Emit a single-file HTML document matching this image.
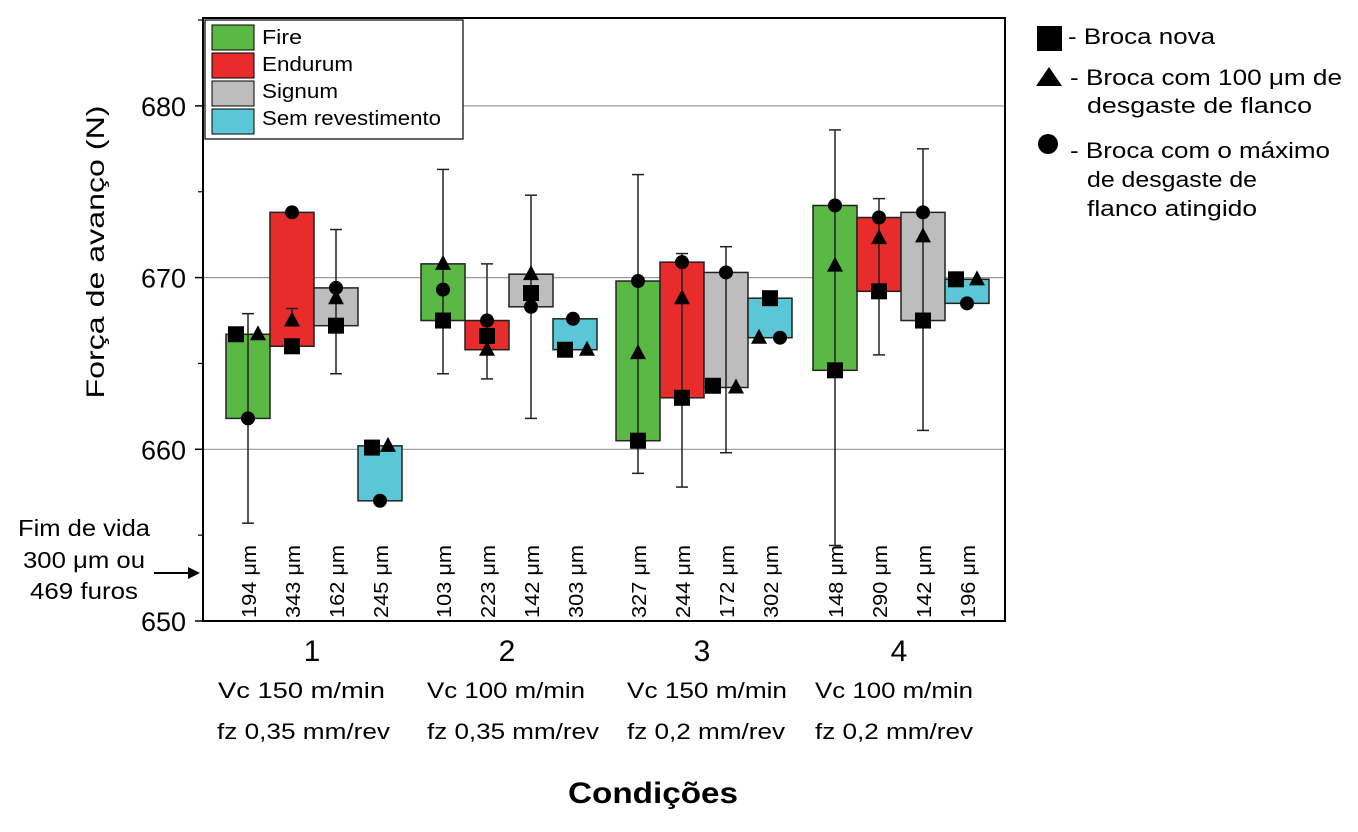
<!DOCTYPE html>
<html><head><meta charset="utf-8"><style>
body{margin:0;background:#fff;}
svg text{font-family:"Liberation Sans",Arial,sans-serif;fill:#000;}
</style></head><body>
<svg id="chart" width="1358" height="827" viewBox="0 0 1358 827" xmlns="http://www.w3.org/2000/svg">
<g id="grid"></g>
<g id="axes"></g>
<g id="marks"></g>
<rect x="203" y="18" width="802" height="603" fill="none" stroke="#000" stroke-width="2"/>
<g>
<rect x="205" y="20" width="258" height="119" fill="#fff" stroke="#000" stroke-width="1.2"/>
<rect x="212" y="25" width="42" height="25" fill="#5ab845" stroke="#000"/>
<text x="262" y="44" font-size="20" textLength="40" lengthAdjust="spacingAndGlyphs">Fire</text>
<rect x="212" y="53" width="42" height="25" fill="#e82b2b" stroke="#000"/>
<text x="262" y="71" font-size="20" textLength="91" lengthAdjust="spacingAndGlyphs">Endurum</text>
<rect x="212" y="81" width="42" height="25" fill="#bdbdbd" stroke="#000"/>
<text x="262" y="98" font-size="20" textLength="76" lengthAdjust="spacingAndGlyphs">Signum</text>
<rect x="212" y="109" width="42" height="25" fill="#5bc6d6" stroke="#000"/>
<text x="262" y="125" font-size="20" textLength="179" lengthAdjust="spacingAndGlyphs">Sem revestimento</text>
</g>
<g>
<rect x="1037" y="26" width="25" height="25" fill="#000"/>
<text x="1068" y="44" font-size="22" textLength="147" lengthAdjust="spacingAndGlyphs">- Broca nova</text>
<polygon points="1049,67 1062,86 1036,86" fill="#000"/>
<text x="1070" y="85" font-size="22" textLength="272" lengthAdjust="spacingAndGlyphs">- Broca com 100 μm de</text>
<text x="1087" y="113" font-size="22" textLength="225" lengthAdjust="spacingAndGlyphs">desgaste de flanco</text>
<circle cx="1048" cy="144" r="10" fill="#000"/>
<text x="1070" y="158" font-size="22" textLength="260" lengthAdjust="spacingAndGlyphs">- Broca com o máximo</text>
<text x="1087" y="187" font-size="22" textLength="170" lengthAdjust="spacingAndGlyphs">de desgaste de</text>
<text x="1087" y="216" font-size="22" textLength="170" lengthAdjust="spacingAndGlyphs">flanco atingido</text>
</g>
<text transform="translate(104,252) rotate(-90)" text-anchor="middle" font-size="25" textLength="293" lengthAdjust="spacingAndGlyphs">Força de avanço (N)</text>
<text x="568" y="803" font-size="30" font-weight="bold" textLength="170" lengthAdjust="spacingAndGlyphs">Condições</text>
<g>
<text x="18" y="536" font-size="23" textLength="132" lengthAdjust="spacingAndGlyphs">Fim de vida</text>
<text x="23" y="568" font-size="23" textLength="122" lengthAdjust="spacingAndGlyphs">300 μm ou</text>
<text x="30" y="599" font-size="23" textLength="108" lengthAdjust="spacingAndGlyphs">469 furos</text>
<line x1="154" y1="573" x2="190" y2="573" stroke="#000" stroke-width="2"/>
<polygon points="200,573 188,567 188,579" fill="#000"/>
</g>
<g id="xlabels"></g>
</svg>
<script>
const yTicks=[650,660,670,680];
const groups=["1","2","3","4"];
const condVc=["Vc 150 m/min","Vc 100 m/min","Vc 150 m/min","Vc 100 m/min"];
const condFz=["fz 0,35 mm/rev","fz 0,35 mm/rev","fz 0,2 mm/rev","fz 0,2 mm/rev"];
const coatings=["Fire","Endurum","Signum","Sem revestimento"];
const squareVals=[666.7,666.0,667.2,660.1, 667.5,666.6,669.1,665.8, 660.5,663.0,663.7,668.8, 664.6,669.2,667.5,669.9];
const triangleVals=[666.7,667.5,668.8,660.2, 670.8,665.8,670.2,665.8, 665.6,668.8,663.6,666.5, 670.7,672.3,672.4,669.9];
const circleVals=[661.8,673.8,669.4,657.0, 669.3,667.5,668.3,667.6, 669.8,670.9,670.3,666.5, 674.2,673.5,673.8,668.5];
const whiskerLo=[655.7,667.3,664.4,null, 664.4,664.1,661.8,null, 658.6,657.8,659.8,null, 654.4,665.5,661.1,null];
const whiskerHi=[667.9,668.2,672.8,null, 676.3,670.8,674.8,null, 676.0,671.4,671.8,null, 678.6,674.6,677.5,null];
const wearLabels=["194 μm","343 μm","162 μm","245 μm","103 μm","223 μm","142 μm","303 μm","327 μm","244 μm","172 μm","302 μm","148 μm","290 μm","142 μm","196 μm"];

// layout
const colors=["#5ab845","#e82b2b","#bdbdbd","#5bc6d6"];
const groupStart=[226,421,616,813], boxW=44;
const vcX=[218,427,627,815], fzX=[217,427,627,815];
const vcW=[167,158,160,158], fzW=[173,172,158,158];
const sqDx=[-12,0,0,-8, 0,0,0,-10, 0,0,-13,0, 0,0,0,-11];
const trDx=[10,0,0,8, 0,0,0,12, 0,0,10,-11, 0,0,0,10];
const ciDx=[0,0,0,0, 0,0,0,-2, 0,0,0,10, 0,0,0,0];
const y=v=>621-(v-650)*17.17;
const NS="http://www.w3.org/2000/svg";
function mk(tag,attrs,parent){const e=document.createElementNS(NS,tag);for(const k in attrs)e.setAttribute(k,attrs[k]);parent.appendChild(e);return e;}
const grid=document.getElementById('grid'),axes=document.getElementById('axes'),marks=document.getElementById('marks'),xl=document.getElementById('xlabels');
yTicks.forEach(t=>{
  if(t>650){const g=mk('line',{x1:203,x2:1005,y1:y(t),y2:y(t),stroke:'#999','stroke-width':1.2},grid);
  
  }
  const tk=mk('line',{x1:195,x2:203,y1:y(t),y2:y(t),stroke:'#000','stroke-width':1.5},axes);
  
  
  const mt=mk('line',{x1:198,x2:203,y1:y(t+5),y2:y(t+5),stroke:'#000','stroke-width':1.2},axes);
  
  
  const lb=mk('text',{x:186,y:y(t)+10,'text-anchor':'end','font-size':27},axes);lb.textContent=t;
  
  
});
groups.forEach((g,gi)=>{
  const cx=groupStart[gi]+boxW*2;
  const n=mk('text',{x:cx-2,y:661,'text-anchor':'middle','font-size':30},xl);n.textContent=g;
  
  
  const a=mk('text',{x:vcX[gi],y:698,'font-size':22,textLength:vcW[gi],lengthAdjust:'spacingAndGlyphs'},xl);a.textContent=condVc[gi];
  
  
  const b=mk('text',{x:fzX[gi],y:739,'font-size':22,textLength:fzW[gi],lengthAdjust:'spacingAndGlyphs'},xl);b.textContent=condFz[gi];
  
  
  for(let c=0;c<4;c++){
    const i=gi*4+c, x0=groupStart[gi]+c*boxW, xc=x0+boxW/2;
    const vals=[squareVals[i],triangleVals[i],circleVals[i]];
    const hi=Math.max(...vals),lo=Math.min(...vals);
    const r=mk('rect',{x:x0,y:y(hi),width:boxW,height:y(lo)-y(hi),fill:colors[c],stroke:'#222','stroke-width':1.5},marks);
    
    
    if(whiskerLo[i]!==null){
      const w=mk('line',{x1:xc,x2:xc,y1:y(whiskerHi[i]),y2:y(whiskerLo[i]),stroke:'#222','stroke-width':1.5},marks);
      
      
      [whiskerHi[i],whiskerLo[i]].forEach(v=>{const cp=mk('line',{x1:xc-6,x2:xc+6,y1:y(v),y2:y(v),stroke:'#222','stroke-width':1.5},marks);
        
        });
    }
    const sx=xc+sqDx[i];
    const sq=mk('rect',{x:sx-8,y:y(squareVals[i])-8,width:16,height:16,fill:'#000'},marks);
    
    
    const tx=xc+trDx[i],ty=y(triangleVals[i]);
    const tr=mk('polygon',{points:`${tx},${ty-9} ${tx+8},${ty+6} ${tx-8},${ty+6}`,fill:'#000'},marks);
    
    
    const ci=mk('circle',{cx:xc+ciDx[i],cy:y(circleVals[i]),r:7,fill:'#000'},marks);
    
    
    const wl=mk('text',{transform:`translate(${xc+8},618) rotate(-90)`,'font-size':20,textLength:73,lengthAdjust:'spacingAndGlyphs'},marks);wl.textContent=wearLabels[i];
    
    
  }
});
</script>
</body></html>
